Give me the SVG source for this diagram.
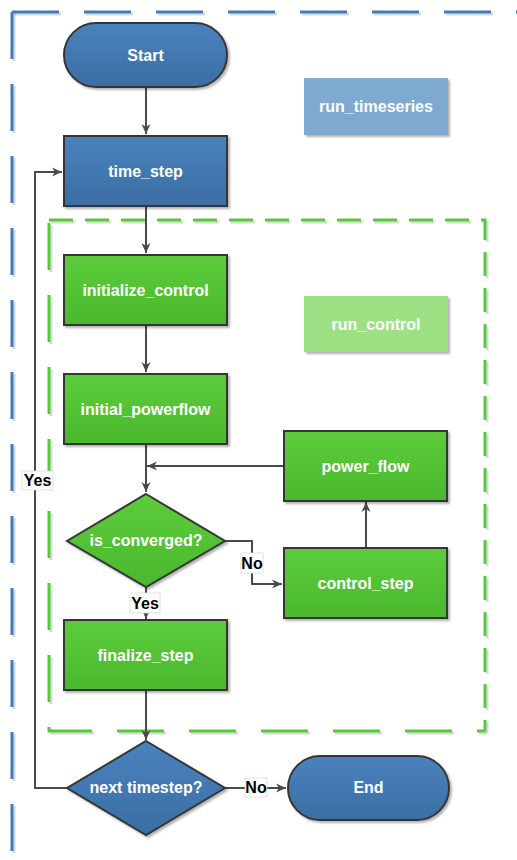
<svg xmlns="http://www.w3.org/2000/svg" width="517" height="860" viewBox="0 0 517 860">
  <defs>
    <linearGradient id="gBlue" x1="0" y1="0" x2="0" y2="1">
      <stop offset="0" stop-color="#4a82bd"/>
      <stop offset="1" stop-color="#3b6ea4"/>
    </linearGradient>
    <linearGradient id="gGreen" x1="0" y1="0" x2="0" y2="1">
      <stop offset="0" stop-color="#5ccc3c"/>
      <stop offset="1" stop-color="#4bb82d"/>
    </linearGradient>
    <filter id="shadow" x="-10%" y="-10%" width="130%" height="130%">
      <feDropShadow dx="2" dy="2" stdDeviation="0.8" flood-color="#000" flood-opacity="0.3"/>
    </filter>
    <!-- user-space region so that straight lines (zero-height boxes) still render -->
    <filter id="lshadow" filterUnits="userSpaceOnUse" x="0" y="0" width="540" height="880">
      <feDropShadow dx="2" dy="2" stdDeviation="0.6" flood-color="#000" flood-opacity="0.15"/>
    </filter>
    <marker id="arrow" markerUnits="userSpaceOnUse" markerWidth="12" markerHeight="10" refX="10" refY="5" orient="auto">
      <path d="M0,0.5 L10,5 L0,9.5 L3,5 Z" fill="#4a4a4a"/>
    </marker>
  </defs>
  <style>
    .node { stroke: #363636; stroke-width: 2; filter: url(#shadow); }
    .blue { fill: url(#gBlue); }
    .green { fill: url(#gGreen); }
    .title { stroke: none; filter: url(#shadow); }
    .lbl { font-family: "Liberation Sans", Arial, sans-serif; font-weight: bold; font-size: 16px; fill: #ffffff; text-anchor: middle; }
    .edge { fill: none; stroke: #4a4a4a; stroke-width: 2; }
    .elbl { font-family: "Liberation Sans", Arial, sans-serif; font-weight: bold; font-size: 16px; fill: #000000; text-anchor: middle; }
    .elblbg { fill: #ffffff; stroke: #d8d8d8; stroke-width: 0.8; }
    .frameBlue { fill: none; stroke: #3f7cbb; stroke-width: 3; stroke-dasharray: 47 25; filter: url(#lshadow); }
    .frameGreen { fill: none; stroke: #5ac83c; stroke-width: 3; filter: url(#lshadow); }
  </style>

  <!-- outer container: run_timeseries -->
  <g id="frame-timeseries">
    <path class="frameBlue" d="M12,12 H540"/>
    <path class="frameBlue" d="M12,12 V880"/>
  </g>

  <!-- inner container: run_control -->
  <g id="frame-control">
    <path class="frameGreen" d="M49,220 H485 V731" stroke-dasharray="24 12"/>
    <path class="frameGreen" d="M485,731 H49 V220" stroke-dasharray="47 25" stroke-dashoffset="39"/>
  </g>

  <!-- connectors -->
  <g id="connectors">
    <line class="edge" x1="146" y1="88" x2="146" y2="134" marker-end="url(#arrow)"/>
    <line class="edge" x1="146" y1="207" x2="146" y2="253" marker-end="url(#arrow)"/>
    <line class="edge" x1="146" y1="326" x2="146" y2="372" marker-end="url(#arrow)"/>
    <line class="edge" x1="146" y1="445" x2="146" y2="492" marker-end="url(#arrow)"/>
    <line class="edge" x1="283" y1="466" x2="147" y2="466" marker-end="url(#arrow)"/>
    <polyline class="edge" points="224,541 252,541 252,584 282,584" marker-end="url(#arrow)"/>
    <line class="edge" x1="366" y1="548" x2="366" y2="502" marker-end="url(#arrow)"/>
    <line class="edge" x1="146" y1="587" x2="146" y2="619" marker-end="url(#arrow)"/>
    <line class="edge" x1="146" y1="691" x2="146" y2="740" marker-end="url(#arrow)"/>
    <polyline class="edge" points="67,788 35,788 35,172 62,172" marker-end="url(#arrow)"/>
    <line class="edge" x1="225" y1="788" x2="286" y2="788" marker-end="url(#arrow)"/>

    <rect class="elblbg" x="22" y="471" width="31" height="19"/>
    <text class="elbl" x="37.5" y="486">Yes</text>
    <rect class="elblbg" x="241" y="553" width="22" height="20"/>
    <text class="elbl" x="252" y="569">No</text>
    <rect class="elblbg" x="130" y="593" width="30" height="20"/>
    <text class="elbl" x="145" y="609">Yes</text>
    <rect class="elblbg" x="245" y="778" width="22" height="19"/>
    <text class="elbl" x="256" y="793">No</text>
  </g>

  <g id="start">
    <rect class="node blue" x="64" y="23" width="163" height="64" rx="32" ry="32"/>
    <text class="lbl" x="145.5" y="61">Start</text>
  </g>

  <g id="run_timeseries">
    <rect class="title" x="304" y="78" width="144" height="57" fill="#7eaad1"/>
    <text class="lbl" x="376" y="112">run_timeseries</text>
  </g>

  <g id="time_step">
    <rect class="node blue" x="64" y="136" width="163" height="70"/>
    <text class="lbl" x="145.5" y="177">time_step</text>
  </g>

  <g id="initialize_control">
    <rect class="node green" x="64" y="255" width="163" height="70"/>
    <text class="lbl" x="145.5" y="296">initialize_control</text>
  </g>

  <g id="run_control">
    <rect class="title" x="304" y="296" width="144" height="56" fill="#9de184"/>
    <text class="lbl" x="376" y="330">run_control</text>
  </g>

  <g id="initial_powerflow">
    <rect class="node green" x="64" y="374" width="163" height="70"/>
    <text class="lbl" x="145.5" y="415">initial_powerflow</text>
  </g>

  <g id="power_flow">
    <rect class="node green" x="284" y="431" width="163" height="70"/>
    <text class="lbl" x="365.5" y="472">power_flow</text>
  </g>

  <g id="is_converged">
    <polygon class="node green" points="146,494 225,541 146,587 67,541"/>
    <text class="lbl" x="146" y="546">is_converged?</text>
  </g>

  <g id="control_step">
    <rect class="node green" x="284" y="548" width="163" height="70"/>
    <text class="lbl" x="365.5" y="589">control_step</text>
  </g>

  <g id="finalize_step">
    <rect class="node green" x="64" y="620" width="163" height="70"/>
    <text class="lbl" x="145.5" y="661">finalize_step</text>
  </g>

  <g id="next_timestep">
    <polygon class="node blue" points="146,741 225,788 146,835 67,788"/>
    <text class="lbl" x="146" y="793">next timestep?</text>
  </g>

  <g id="end">
    <rect class="node blue" x="288" y="756" width="161" height="64" rx="32" ry="32"/>
    <text class="lbl" x="368.5" y="793">End</text>
  </g>
</svg>
